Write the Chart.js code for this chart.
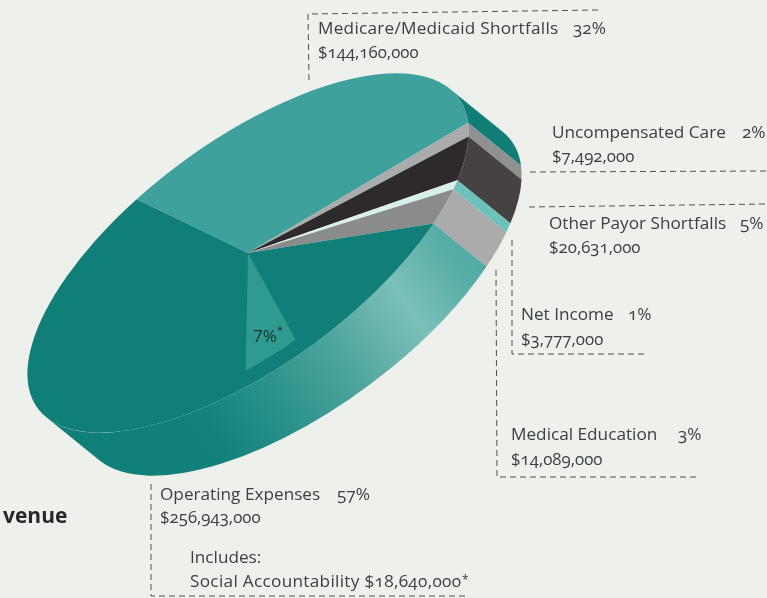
<!DOCTYPE html>
<html>
<head>
<meta charset="utf-8">
<script src="https://cdn.jsdelivr.net/npm/chart.js@4"></script>
<style>
  html, body { margin: 0; padding: 0; background: #eef1eb; }
  #stage { position: relative; width: 767px; height: 598px; overflow: hidden; }
  #pie { position: absolute; left: 0; top: 0; }
  .t { position: absolute; white-space: nowrap; color: #3b4040; font-family: "Open Sans", sans-serif;
       font-size: 17.2px; font-feature-settings: "onum" 1, "kern" 1; line-height: 20px; }
  .t i { display: inline-block; width: 0; height: 0; }
</style>
</head>
<body>
<div id="stage"><canvas id="pie" width="767" height="598"></canvas></div>
<script>
// Uses of revenue, in dollars, clockwise from the Medicare/Medicaid slice.
const categories = ["Medicare/Medicaid Shortfalls", "Uncompensated Care", "Other Payor Shortfalls",
                    "Net Income", "Medical Education", "Operating Expenses"];
const amounts = [144160000, 7492000, 20631000, 3777000, 14089000, 256943000];
const percents = ["32%", "2%", "5%", "1%", "3%", "57%"];

// The part of operating expenses that is called out inside its slice.
const socialAccountability = 18640000;
const socialLeadIn = 53300000;   // operating dollars swept before the inset wedge begins
const insetLabel = "7%";

const topColors = ["#3ea19b", "#a9acab", "#2e2a2b", "#d8f0ec", null, "#0f7f78"];
const sideColors = ["#117d77", "#8f9090", "#454241", "#6cc1bb", "#ababab", null];

// Oblique projection of the pie: circle axes mapped to screen vectors, plus the extrusion.
const centre = { x: 248, y: 253 };
const axisU = { x: 220, y: -130.5 };
const axisV = { x: 16.6, y: 123.5 };
const extrude = { x: 53, y: 43 };
const insetRadius = 0.875;

// Text placement, one row per category: name, percent and amount anchors.
const textRows = [
  { x: 318, y: 34, px: 573, ay: 58 },
  { x: 552, y: 138, px: 742, ay: 162 },
  { x: 549, y: 229, px: 740, ay: 253 },
  { x: 521, y: 320, px: 628, ay: 345 },
  { x: 511, y: 440, px: 678, ay: 465 },
  { x: 160, y: 500, px: 337, ay: 523 }
];

// Dashed leader lines as polylines.
const leaders = [
  [[309, 80], [308, 14], [598, 10]],
  [[530, 172], [767, 171]],
  [[529, 207], [767, 204]],
  [[512, 240], [512, 354], [645, 354]],
  [[496, 270], [497, 477], [700, 477]],
  [[151, 484], [151, 596], [467, 596]]
];

const stage = document.getElementById("stage");
function addText(str, x, y, css) {
  const el = document.createElement("div");
  el.className = "t";
  el.style.left = x + "px";
  el.textContent = str;
  if (css) el.style.cssText += css;
  const strut = document.createElement("i");
  el.appendChild(strut);
  stage.appendChild(el);
  el.style.top = (y - strut.offsetTop) + "px";
  return el;
}
const dollars = v => "$" + v.toLocaleString("en-US");

categories.forEach((name, i) => {
  const r = textRows[i];
  addText(name, r.x, r.y, i === 0 ? "letter-spacing:.25px;" : "");
  addText(percents[i], r.px, r.y);
  addText(dollars(amounts[i]), r.x, r.ay, "font-size:16.8px;");
});
addText("Includes:", 190, 563);
const social = addText("Social Accountability " + dollars(socialAccountability), 190, 587, "letter-spacing:.3px;");
addText("*", 190 + social.offsetWidth + 1, 584, "font-size:12px;");
addText("venue", 3, 523, "font-weight:700;font-size:21px;color:#26292a;");

function applyProjection(ctx, arc) {
  const R = arc.outerRadius, ox = arc.x, oy = arc.y;
  ctx.transform(axisU.x / R, axisU.y / R, axisV.x / R, axisV.y / R,
    centre.x - (axisU.x * ox + axisV.x * oy) / R,
    centre.y - (axisU.y * ox + axisV.y * oy) / R);
}

const projectedPie = {
  id: "projectedPie",
  beforeDatasetsDraw(chart) {
    const ctx = chart.ctx;
    const arcs = chart.getDatasetMeta(0).data;
    const R = arcs[0].outerRadius, ox = arcs[0].x, oy = arcs[0].y;

    // Leader lines sit behind the pie.
    ctx.save();
    ctx.strokeStyle = "#4c5150";
    ctx.lineWidth = 1;
    ctx.setLineDash([6, 4]);
    leaders.forEach(line => {
      ctx.beginPath();
      line.forEach((p, i) => i ? ctx.lineTo(p[0], p[1]) : ctx.moveTo(p[0], p[1]));
      ctx.stroke();
    });
    ctx.restore();

    // Extrusion expressed in circle space, and the half circle of the rim that faces it.
    const det = axisU.x * axisV.y - axisV.x * axisU.y;
    const ex = (extrude.x * axisV.y - axisV.x * extrude.y) / det * R;
    const ey = (axisU.x * extrude.y - extrude.x * axisU.y) / det * R;
    const facing = Math.atan2(ey, ex);

    const sheen = ctx.createLinearGradient(140, 470, 490, 240);
    sheen.addColorStop(0, "#0f7f78");
    sheen.addColorStop(0.19, "#12827b");
    sheen.addColorStop(0.37, "#2b938b");
    sheen.addColorStop(0.55, "#4ea59e");
    sheen.addColorStop(0.75, "#7cc0b9");
    sheen.addColorStop(0.885, "#5aafa8");
    sheen.addColorStop(1, "#4aa8a2");

    arcs.forEach((arc, i) => {
      for (let k = -1; k <= 1; k++) {
        const from = Math.max(arc.startAngle, facing - Math.PI / 2 + k * 2 * Math.PI);
        const to = Math.min(arc.endAngle, facing + Math.PI / 2 + k * 2 * Math.PI);
        if (to <= from) continue;
        ctx.save();
        applyProjection(ctx, arc);
        ctx.beginPath();
        ctx.arc(ox, oy, R, from, to);
        ctx.arc(ox + ex, oy + ey, R, to, from, true);
        ctx.closePath();
        ctx.setTransform(1, 0, 0, 1, 0, 0);
        ctx.fillStyle = sideColors[i] || sheen;
        ctx.fill();
        ctx.restore();
      }
    });

    // The top face is drawn by the chart itself, under the same projection.
    ctx.save();
    applyProjection(ctx, arcs[0]);
  },
  afterDatasetsDraw(chart) {
    const ctx = chart.ctx;
    const arcs = chart.getDatasetMeta(0).data;
    const op = arcs[arcs.length - 1];
    const total = amounts.reduce((a, b) => a + b, 0);
    const start = op.startAngle + 2 * Math.PI * socialLeadIn / total;
    const end = start + 2 * Math.PI * socialAccountability / total;
    ctx.beginPath();
    ctx.moveTo(op.x, op.y);
    ctx.arc(op.x, op.y, op.outerRadius * insetRadius, start, end);
    ctx.closePath();
    ctx.fillStyle = "#2f9a90";
    ctx.fill();
    ctx.restore();

    ctx.save();
    ctx.fillStyle = "#17302f";
    ctx.font = '17px "Open Sans", sans-serif';
    ctx.fillText(insetLabel, 253, 342);
    ctx.font = '11px "Open Sans", sans-serif';
    ctx.fillText("*", 277, 334);
    ctx.restore();
  }
};

new Chart(document.getElementById("pie"), {
  type: "pie",
  data: {
    labels: categories,
    datasets: [{
      data: amounts,
      clip: false,
      borderWidth: 0,
      backgroundColor(c) {
        if (topColors[c.dataIndex]) return topColors[c.dataIndex];
        const a = c.chart.getDatasetMeta(0).data[c.dataIndex];
        if (!a || !a.outerRadius) return "#8a8b8b";
        const g = c.chart.ctx.createRadialGradient(a.x, a.y, 0, a.x, a.y, a.outerRadius);
        g.addColorStop(0, "#a6a7a7");
        g.addColorStop(1, "#737575");
        return g;
      }
    }]
  },
  options: {
    responsive: false,
    animation: false,
    events: [],
    rotation: -26,
    layout: { padding: 0 },
    plugins: { legend: { display: false }, tooltip: { enabled: false } }
  },
  plugins: [projectedPie]
});
</script>
</body>
</html>
